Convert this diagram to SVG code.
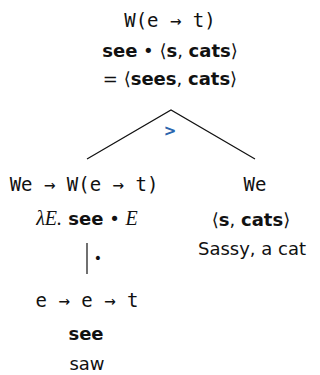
<svg xmlns="http://www.w3.org/2000/svg" width="320" height="375" viewBox="0 0 320 375">
<style>
text{text-anchor:middle;fill:#111}
.m{font-family:"DejaVu Sans Mono",monospace;font-size:19px}
.s{font-family:"DejaVu Sans",sans-serif;font-size:18px}
.b{font-weight:bold}
.i{font-family:"Liberation Serif",serif;font-style:italic;font-size:20px}
.e{stroke:#111;stroke-width:1.2;fill:none}
</style>
<rect width="320" height="375" fill="#fff"/>
<g id="root">
<text class="m" x="170" y="27">W(e → t)</text>
<text class="s" x="170" y="57"><tspan class="b">see</tspan> • ⟨<tspan class="b">s</tspan>, <tspan class="b">cats</tspan>⟩</text>
<text class="s" x="170" y="85">= ⟨<tspan class="b">sees</tspan>, <tspan class="b">cats</tspan>⟩</text>
</g>
<g id="connectors">
<path class="e" d="M87 159 L171 110 L255 159"/>
<text x="170" y="136" style="font-family:'DejaVu Sans',sans-serif;font-size:15px;font-weight:bold;fill:#2a66ad">&gt;</text>
<path class="e" d="M87 243 V274"/>
<text x="98" y="263" style="font-family:'DejaVu Sans',sans-serif;font-size:14px;fill:#111">•</text>
</g>
<g id="left">
<text class="m" x="84" y="191">We → W(e → t)</text>
<text x="87" y="225"><tspan class="i">λE.</tspan><tspan class="s b"> see</tspan><tspan class="s"> • </tspan><tspan class="i">E</tspan></text>
</g>
<g id="leaf">
<text class="m" x="87" y="307">e → e → t</text>
<text class="s b" x="86" y="340">see</text>
<text class="s" x="87" y="370">saw</text>
</g>
<g id="right">
<text class="m" x="255" y="191">We</text>
<text class="s" x="251" y="226">⟨<tspan class="b">s</tspan>, <tspan class="b">cats</tspan>⟩</text>
<text class="s" x="252" y="255">Sassy, a cat</text>
</g>
</svg>
